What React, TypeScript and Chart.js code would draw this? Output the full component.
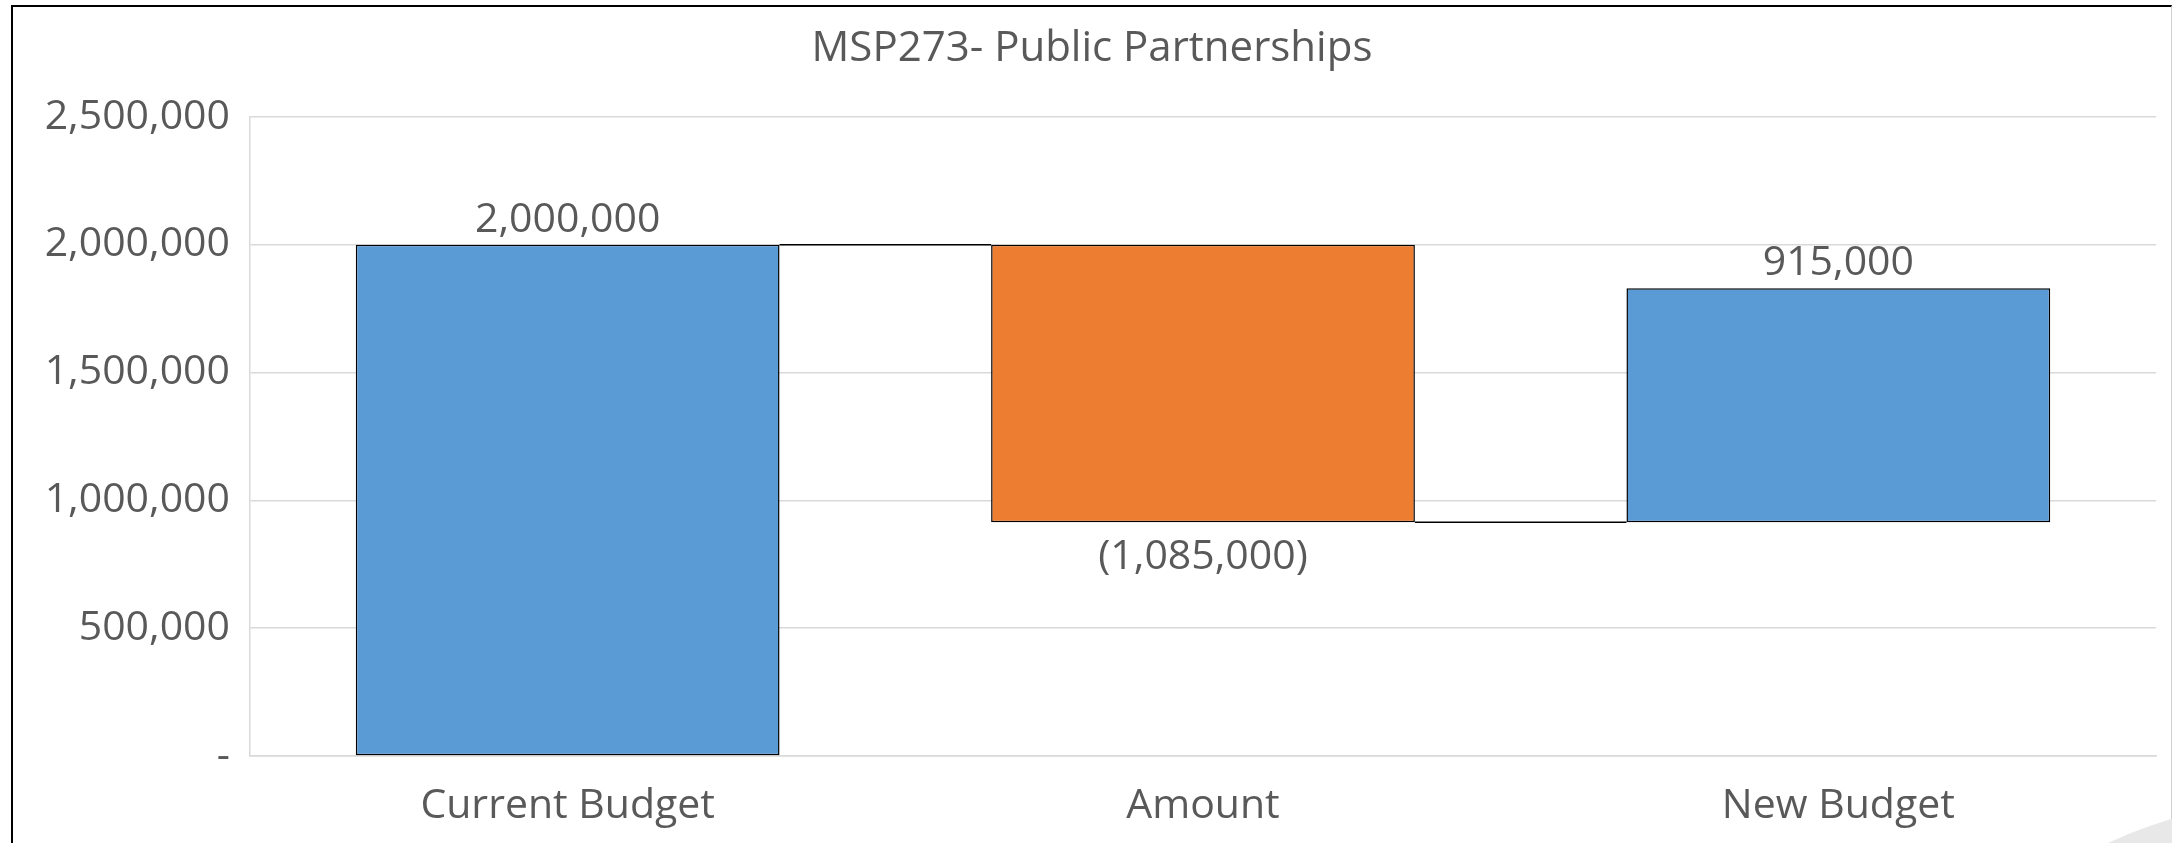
import React, { useEffect, useRef } from "react";
import { Chart, registerables } from "chart.js";

Chart.register(...registerables);

// ---- data ----
const chartTitle = "MSP273- Public Partnerships";
const categories = ["Current Budget", "Amount", "New Budget"];
const baseValues = [0, 915000, 915000]; // invisible stacked base
const barValues = [2000000, 1085000, 915000]; // visible stacked bar
const changeValues = [2000000, -1085000, 915000]; // data labels / running total
const barColors = ["#5B9BD5", "#ED7D31", "#5B9BD5"];
const yTickValues = [0, 500000, 1000000, 1500000, 2000000, 2500000];

const FONT = "'Open Sans', 'Liberation Sans', sans-serif";
const TEXT = "#595959";
const GRID = "#D9D9D9";
const LABEL_SIZE = 41;

const fmt = (v: number) =>
  v === 0
    ? "-"
    : v < 0
    ? `(${Math.abs(v).toLocaleString("en-US")})`
    : v.toLocaleString("en-US");

const waterfallPlugin = {
  id: "waterfallExtras",
  afterDatasetsDraw(chart: any) {
    const meta = chart.getDatasetMeta(1);
    const yScale = chart.scales.y;
    const ctx = chart.ctx as CanvasRenderingContext2D;
    ctx.save();
    // connector lines at running totals
    let running = 0;
    ctx.strokeStyle = "#000";
    ctx.lineWidth = 1.5;
    for (let i = 0; i < meta.data.length - 1; i++) {
      running += changeValues[i];
      const a = meta.data[i];
      const b = meta.data[i + 1];
      const y = yScale.getPixelForValue(running);
      ctx.beginPath();
      ctx.moveTo(a.x + a.width / 2, y);
      ctx.lineTo(b.x - b.width / 2, y);
      ctx.stroke();
    }
    // data labels
    ctx.font = `${LABEL_SIZE}px ${FONT}`;
    ctx.fillStyle = TEXT;
    ctx.textAlign = "center";
    ctx.textBaseline = "alphabetic";
    meta.data.forEach((el: any, i: number) => {
      const v = changeValues[i];
      const top = Math.min(el.y, el.base);
      const bottom = Math.max(el.y, el.base);
      if (v >= 0) ctx.fillText(fmt(v), el.x, top - 13);
      else ctx.fillText(fmt(v), el.x, bottom + 47);
    });
    ctx.restore();
  },
};

function WaterfallChart() {
  const ref = useRef<HTMLCanvasElement | null>(null);
  useEffect(() => {
    if (!ref.current) return;
    const chart = new Chart(ref.current, {
      type: "bar",
      data: {
        labels: categories,
        datasets: [
          {
            label: "Base",
            data: baseValues,
            backgroundColor: "rgba(0,0,0,0)",
            borderWidth: 0,
            categoryPercentage: 1,
            barPercentage: 0.667,
          },
          {
            label: "Value",
            data: barValues,
            backgroundColor: barColors,
            borderColor: "#000",
            borderWidth: 1.5,
            borderSkipped: false,
            categoryPercentage: 1,
            barPercentage: 0.667,
          },
        ],
      },
      options: {
        responsive: false,
        animation: false,
        devicePixelRatio: 1,
        layout: { padding: { left: 15, right: 15, top: 0, bottom: 0 } },
        plugins: {
          legend: { display: false },
          tooltip: { enabled: false },
          title: {
            display: true,
            text: chartTitle,
            color: TEXT,
            font: { family: FONT, size: 42, weight: "normal", lineHeight: 1.2 },
            padding: { top: 17, bottom: 42.6 },
          },
        },
        scales: {
          x: {
            stacked: true,
            grid: { display: false, drawTicks: false },
            border: { display: true, color: GRID, width: 1.5 },
            ticks: {
              color: TEXT,
              font: { family: FONT, size: LABEL_SIZE },
              padding: 26,
              maxRotation: 0,
            },
            afterFit: (s: any) => {
              s.height = 87;
            },
          },
          y: {
            stacked: true,
            min: 0,
            max: 2500000,
            grid: { color: GRID, lineWidth: 1.5, drawTicks: false },
            border: { display: true, color: GRID, width: 1.5 },
            afterBuildTicks: (s: any) => {
              s.ticks = yTickValues.map((v) => ({ value: v }));
            },
            ticks: {
              color: TEXT,
              font: { family: FONT, size: LABEL_SIZE },
              padding: 20,
              callback: (v: any) => fmt(Number(v)),
            },
            afterFit: (s: any) => {
              s.width = 222;
            },
          },
        },
      },
      plugins: [waterfallPlugin],
    } as any);
    return () => chart.destroy();
  }, []);
  return (
    <canvas
      ref={ref}
      width={2158}
      height={836}
      style={{ position: "absolute", left: 13, top: 7, width: 2158, height: 836 }}
    />
  );
}

export default function App() {
  useEffect(() => {
    document.body.style.margin = "0";
  }, []);
  return (
    <div
      style={{
        position: "absolute",
        left: 0,
        top: 0,
        width: 2172,
        height: 843,
        overflow: "hidden",
        background: "#fff",
      }}
    >
      <div
        style={{
          position: "absolute",
          left: 11,
          top: 5,
          width: 2161,
          height: 900,
          boxSizing: "border-box",
          borderLeft: "2px solid #000",
          borderTop: "2px solid #000",
          borderRight: "1px solid #d0d0d0",
        }}
      />
      <WaterfallChart />
      <div
        style={{
          position: "absolute",
          left: 1850,
          top: 800,
          width: 900,
          height: 900,
          borderRadius: "50%",
          background: "#e8e8e8",
        }}
      />
    </div>
  );
}
